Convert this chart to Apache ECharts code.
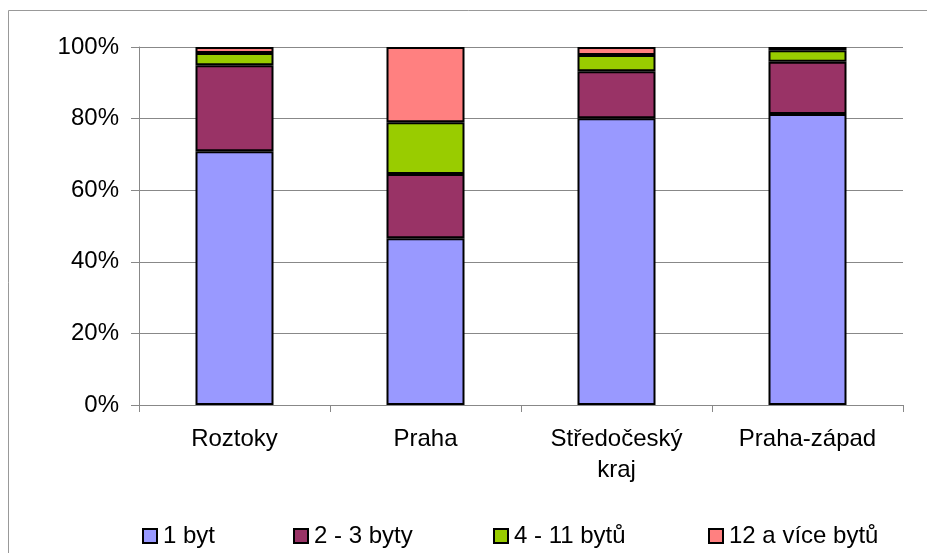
<!DOCTYPE html>
<html><head><meta charset="utf-8">
<script src="https://cdn.jsdelivr.net/npm/echarts@6/dist/echarts.min.js"></script>
<style>html,body{margin:0;padding:0;background:#fff}#c{width:927px;height:553px}</style>
</head><body><div id="c"></div>
<script>
const categories = ['Roztoky', 'Praha', 'Středočeský\nkraj', 'Praha-západ'];
const seriesNames = ['1 byt', '2 - 3 byty', '4 - 11 bytů', '12 a více bytů'];
const byt1 = [70.9, 46.6, 80.1, 81.3];
const byty2_3 = [24.0, 17.9, 13.1, 14.6];
const byty4_11 = [3.4, 14.5, 4.6, 3.2];
const byty12 = [1.7, 21.0, 2.2, 0.9];
const colors = ['#9999ff', '#993366', '#99cc00', '#ff8080'];
const yTicks = [0, 20, 40, 60, 80, 100];

const values = [byt1, byty2_3, byty4_11, byty12];
const font = 'Liberation Sans, Arial, sans-serif';
const chart = echarts.init(document.getElementById('c'));
const legendLeft = [142, 293, 493, 708];
chart.setOption({
  animation: false,
  textStyle: {fontFamily: font},
  graphic: [{type: 'rect', shape: {x: 8.5, y: 10.5, width: 1000, height: 1000}, style: {fill: 'none', stroke: '#999', lineWidth: 1}, z: -1}],
  grid: {left: 139, right: 24, top: 47, bottom: 148},
  legend: seriesNames.map((n, i) => ({
    data: [n], left: legendLeft[i], top: 524, padding: 0, itemWidth: 14, itemHeight: 14,
    icon: 'rect', textStyle: {fontSize: 24, color: '#000', fontFamily: font, padding: [0, 0, 0, 1]},
    itemStyle: {borderColor: '#000', borderWidth: 2}
  })),
  xAxis: {
    type: 'category', data: categories,
    axisLine: {lineStyle: {color: '#888', width: 1}},
    axisTick: {show: true, length: 7, lineStyle: {color: '#888'}},
    axisLabel: {fontSize: 24, color: '#000', margin: 19, lineHeight: 31, fontFamily: font}
  },
  yAxis: {
    type: 'value', min: 0, max: 100, interval: 20,
    axisLine: {show: true, lineStyle: {color: '#888'}},
    axisTick: {show: true, length: 8, lineStyle: {color: '#888'}},
    splitLine: {lineStyle: {color: '#888', width: 1}},
    axisLabel: {fontSize: 24, color: '#000', margin: 20, fontFamily: font,
      formatter: v => yTicks.includes(v) ? v + '%' : ''}
  },
  series: seriesNames.map((n, i) => ({
    name: n, type: 'bar', stack: 'all', data: values[i], barWidth: 78,
    itemStyle: {color: colors[i], borderColor: '#000', borderWidth: 2}
  }))
});
</script></body></html>
